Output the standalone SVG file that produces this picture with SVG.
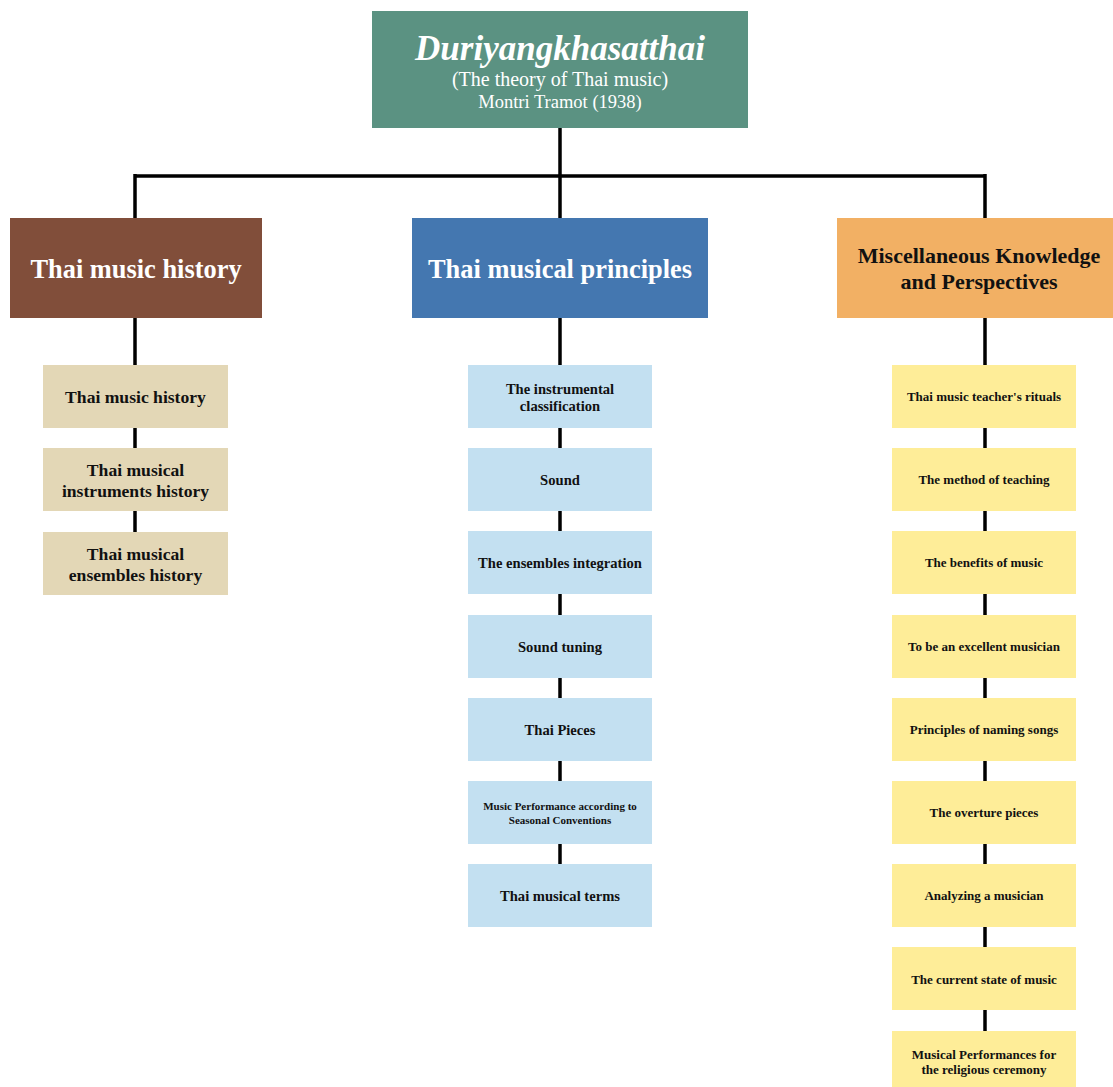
<svg xmlns="http://www.w3.org/2000/svg" width="1113" height="1087" viewBox="0 0 1113 1087">
<style>
text{font-family:"Liberation Serif","Times New Roman",serif;text-anchor:middle;font-weight:bold}
.w{fill:#ffffff}
.k{fill:#111111}
.n{font-weight:normal}
.ln{stroke:#000;stroke-width:3.5;fill:none}
.tan{fill:#e3d7b6}
.lb{fill:#c3e0f1}
.yl{fill:#feed98}
.s1{font-size:17.6px}
.s2{font-size:14.6px}
.s3{font-size:13px}
</style>
<rect width="1113" height="1087" fill="#fff"/>
<g id="connectors">
<path class="ln" d="M560 128V176M135 176H985M135 174V218M560 176V218M985 174V218"/>
<path class="ln" d="M135 318V532"/>
<path class="ln" d="M560 318V864"/>
<path class="ln" d="M985 318V1031"/>
</g>
<g id="root">
<rect x="372" y="11" width="376" height="117" fill="#5b9282"/>
<text class="w" x="560" y="60" font-size="35" font-style="italic">Duriyangkhasatthai</text>
<text class="w n" x="560" y="86" font-size="20">(The theory of Thai music)</text>
<text class="w n" x="560" y="108" font-size="18.5">Montri Tramot (1938)</text>
</g>
<g id="cat1"><rect x="10" y="218" width="252" height="100" fill="#814e3a"/><text class="w" x="136" y="278" font-size="26.4">Thai music history</text></g>
<g id="cat2"><rect x="412" y="218" width="296" height="100" fill="#4477b0"/><text class="w" x="560" y="278" font-size="26.4">Thai musical principles</text></g>
<g id="cat3"><rect x="837" y="218" width="276" height="100" fill="#f2b064"/><text class="k" x="979" y="263" font-size="22">Miscellaneous Knowledge</text><text class="k" x="979" y="289" font-size="22">and Perspectives</text></g>

<g id="h1"><rect class="tan" x="43" y="365" width="185" height="63"/><text class="k s1" x="135.5" y="403">Thai music history</text></g>
<g id="h2"><rect class="tan" x="43" y="448" width="185" height="63"/><text class="k s1" x="135.5" y="476">Thai musical</text><text class="k s1" x="135.5" y="497">instruments history</text></g>
<g id="h3"><rect class="tan" x="43" y="532" width="185" height="63"/><text class="k s1" x="135.5" y="560">Thai musical</text><text class="k s1" x="135.5" y="581">ensembles history</text></g>

<g id="p1"><rect class="lb" x="468" y="365" width="184" height="63"/><text class="k s2" x="560" y="394">The instrumental</text><text class="k s2" x="560" y="411">classification</text></g>
<g id="p2"><rect class="lb" x="468" y="448" width="184" height="63"/><text class="k s2" x="560" y="485">Sound</text></g>
<g id="p3"><rect class="lb" x="468" y="531" width="184" height="63"/><text class="k s2" x="560" y="568">The ensembles integration</text></g>
<g id="p4"><rect class="lb" x="468" y="615" width="184" height="63"/><text class="k s2" x="560" y="652">Sound tuning</text></g>
<g id="p5"><rect class="lb" x="468" y="698" width="184" height="63"/><text class="k s2" x="560" y="735">Thai Pieces</text></g>
<g id="p6"><rect class="lb" x="468" y="781" width="184" height="63"/><text class="k" x="560" y="810" font-size="11">Music Performance according to</text><text class="k" x="560" y="824" font-size="11">Seasonal Conventions</text></g>
<g id="p7"><rect class="lb" x="468" y="864" width="184" height="63"/><text class="k s2" x="560" y="901">Thai musical terms</text></g>

<g id="m1"><rect class="yl" x="892" y="365" width="184" height="63"/><text class="k s3" x="984" y="401">Thai music teacher's rituals</text></g>
<g id="m2"><rect class="yl" x="892" y="448" width="184" height="63"/><text class="k s3" x="984" y="484">The method of teaching</text></g>
<g id="m3"><rect class="yl" x="892" y="531" width="184" height="63"/><text class="k s3" x="984" y="567">The benefits of music</text></g>
<g id="m4"><rect class="yl" x="892" y="615" width="184" height="63"/><text class="k s3" x="984" y="651">To be an excellent musician</text></g>
<g id="m5"><rect class="yl" x="892" y="698" width="184" height="63"/><text class="k s3" x="984" y="734">Principles of naming songs</text></g>
<g id="m6"><rect class="yl" x="892" y="781" width="184" height="63"/><text class="k s3" x="984" y="817">The overture pieces</text></g>
<g id="m7"><rect class="yl" x="892" y="864" width="184" height="63"/><text class="k s3" x="984" y="900">Analyzing a musician</text></g>
<g id="m8"><rect class="yl" x="892" y="947" width="184" height="63"/><text class="k s3" x="984" y="984">The current state of music</text></g>
<g id="m9"><rect class="yl" x="892" y="1031" width="184" height="56"/><text class="k s3" x="984" y="1059">Musical Performances for</text><text class="k s3" x="984" y="1074">the religious ceremony</text></g>
</svg>
